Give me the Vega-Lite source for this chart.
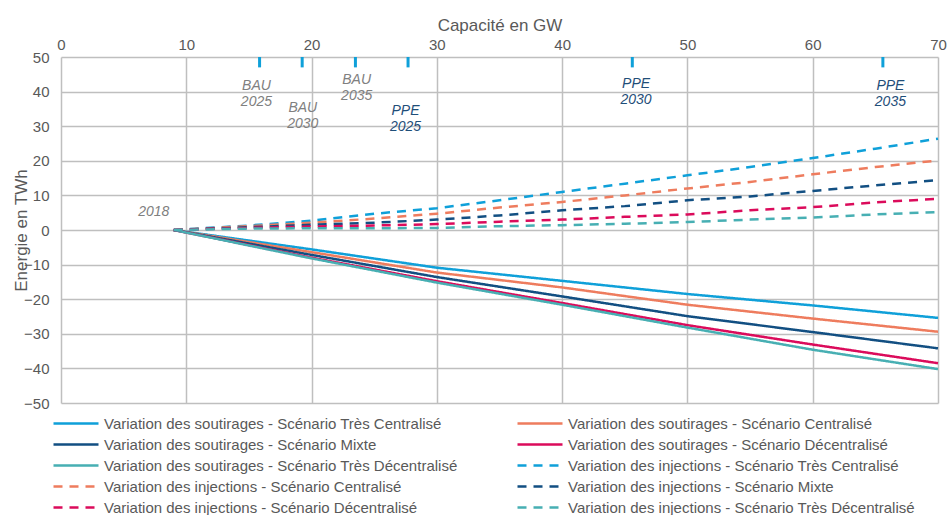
{
  "$schema": "https://vega.github.io/schema/vega-lite/v6.json",
  "autosize": "none",
  "width": 877,
  "height": 346,
  "padding": {"left": 61, "top": 57, "right": 9, "bottom": 112},
  "background": "white",
  "config": {
    "font": "Liberation Sans",
    "view": {"stroke": null},
    "axis": {"labelFont": "Liberation Sans", "titleFont": "Liberation Sans", "labelColor": "#595959", "titleColor": "#595959", "labelFontSize": 15, "titleFontSize": 17, "titleFontWeight": "normal", "gridColor": "#BFBFBF", "gridWidth": 1.5, "domain": false, "ticks": false, "labelOverlap": false}
  },
  "datasets": {
    "lines": [
      {"series": "Variation des soutirages - Scénario Très Centralisé", "x": 9, "y": 0},
      {"series": "Variation des soutirages - Scénario Très Centralisé", "x": 20, "y": -5.6},
      {"series": "Variation des soutirages - Scénario Très Centralisé", "x": 30, "y": -10.9},
      {"series": "Variation des soutirages - Scénario Très Centralisé", "x": 40, "y": -14.7},
      {"series": "Variation des soutirages - Scénario Très Centralisé", "x": 50, "y": -18.5},
      {"series": "Variation des soutirages - Scénario Très Centralisé", "x": 60, "y": -21.8},
      {"series": "Variation des soutirages - Scénario Très Centralisé", "x": 70, "y": -25.4},
      {"series": "Variation des soutirages - Scénario Centralisé", "x": 9, "y": 0},
      {"series": "Variation des soutirages - Scénario Centralisé", "x": 20, "y": -6.4},
      {"series": "Variation des soutirages - Scénario Centralisé", "x": 30, "y": -12.3},
      {"series": "Variation des soutirages - Scénario Centralisé", "x": 40, "y": -16.6},
      {"series": "Variation des soutirages - Scénario Centralisé", "x": 50, "y": -21.6},
      {"series": "Variation des soutirages - Scénario Centralisé", "x": 60, "y": -25.6},
      {"series": "Variation des soutirages - Scénario Centralisé", "x": 70, "y": -29.4},
      {"series": "Variation des soutirages - Scénario Mixte", "x": 9, "y": 0},
      {"series": "Variation des soutirages - Scénario Mixte", "x": 20, "y": -7.2},
      {"series": "Variation des soutirages - Scénario Mixte", "x": 30, "y": -13.6},
      {"series": "Variation des soutirages - Scénario Mixte", "x": 40, "y": -19.2},
      {"series": "Variation des soutirages - Scénario Mixte", "x": 50, "y": -24.9},
      {"series": "Variation des soutirages - Scénario Mixte", "x": 60, "y": -29.5},
      {"series": "Variation des soutirages - Scénario Mixte", "x": 70, "y": -34.2},
      {"series": "Variation des soutirages - Scénario Décentralisé", "x": 9, "y": 0},
      {"series": "Variation des soutirages - Scénario Décentralisé", "x": 20, "y": -8.0},
      {"series": "Variation des soutirages - Scénario Décentralisé", "x": 30, "y": -14.8},
      {"series": "Variation des soutirages - Scénario Décentralisé", "x": 40, "y": -21.1},
      {"series": "Variation des soutirages - Scénario Décentralisé", "x": 50, "y": -27.5},
      {"series": "Variation des soutirages - Scénario Décentralisé", "x": 60, "y": -33.1},
      {"series": "Variation des soutirages - Scénario Décentralisé", "x": 70, "y": -38.5},
      {"series": "Variation des soutirages - Scénario Très Décentralisé", "x": 9, "y": 0},
      {"series": "Variation des soutirages - Scénario Très Décentralisé", "x": 20, "y": -8.2},
      {"series": "Variation des soutirages - Scénario Très Décentralisé", "x": 30, "y": -15.2},
      {"series": "Variation des soutirages - Scénario Très Décentralisé", "x": 40, "y": -21.6},
      {"series": "Variation des soutirages - Scénario Très Décentralisé", "x": 50, "y": -28.2},
      {"series": "Variation des soutirages - Scénario Très Décentralisé", "x": 60, "y": -34.6},
      {"series": "Variation des soutirages - Scénario Très Décentralisé", "x": 70, "y": -40.2},
      {"series": "Variation des injections - Scénario Très Centralisé", "x": 9, "y": 0},
      {"series": "Variation des injections - Scénario Très Centralisé", "x": 15, "y": 1.3},
      {"series": "Variation des injections - Scénario Très Centralisé", "x": 20, "y": 2.7},
      {"series": "Variation des injections - Scénario Très Centralisé", "x": 25, "y": 4.7},
      {"series": "Variation des injections - Scénario Très Centralisé", "x": 30, "y": 6.3},
      {"series": "Variation des injections - Scénario Très Centralisé", "x": 35, "y": 8.6},
      {"series": "Variation des injections - Scénario Très Centralisé", "x": 40, "y": 11.0},
      {"series": "Variation des injections - Scénario Très Centralisé", "x": 45, "y": 13.4},
      {"series": "Variation des injections - Scénario Très Centralisé", "x": 50, "y": 15.8},
      {"series": "Variation des injections - Scénario Très Centralisé", "x": 55, "y": 18.2},
      {"series": "Variation des injections - Scénario Très Centralisé", "x": 60, "y": 20.8},
      {"series": "Variation des injections - Scénario Très Centralisé", "x": 65, "y": 23.5},
      {"series": "Variation des injections - Scénario Très Centralisé", "x": 70, "y": 26.4},
      {"series": "Variation des injections - Scénario Centralisé", "x": 9, "y": 0},
      {"series": "Variation des injections - Scénario Centralisé", "x": 15, "y": 1.1},
      {"series": "Variation des injections - Scénario Centralisé", "x": 20, "y": 2.1},
      {"series": "Variation des injections - Scénario Centralisé", "x": 25, "y": 3.3},
      {"series": "Variation des injections - Scénario Centralisé", "x": 30, "y": 4.7},
      {"series": "Variation des injections - Scénario Centralisé", "x": 35, "y": 6.5},
      {"series": "Variation des injections - Scénario Centralisé", "x": 40, "y": 8.1},
      {"series": "Variation des injections - Scénario Centralisé", "x": 45, "y": 10.0},
      {"series": "Variation des injections - Scénario Centralisé", "x": 50, "y": 12.0},
      {"series": "Variation des injections - Scénario Centralisé", "x": 55, "y": 13.9},
      {"series": "Variation des injections - Scénario Centralisé", "x": 60, "y": 16.1},
      {"series": "Variation des injections - Scénario Centralisé", "x": 65, "y": 18.2},
      {"series": "Variation des injections - Scénario Centralisé", "x": 70, "y": 20.1},
      {"series": "Variation des injections - Scénario Mixte", "x": 9, "y": 0},
      {"series": "Variation des injections - Scénario Mixte", "x": 15, "y": 0.8},
      {"series": "Variation des injections - Scénario Mixte", "x": 20, "y": 1.5},
      {"series": "Variation des injections - Scénario Mixte", "x": 25, "y": 2.1},
      {"series": "Variation des injections - Scénario Mixte", "x": 30, "y": 3.0},
      {"series": "Variation des injections - Scénario Mixte", "x": 35, "y": 4.2},
      {"series": "Variation des injections - Scénario Mixte", "x": 40, "y": 5.7},
      {"series": "Variation des injections - Scénario Mixte", "x": 45, "y": 6.9},
      {"series": "Variation des injections - Scénario Mixte", "x": 50, "y": 8.6},
      {"series": "Variation des injections - Scénario Mixte", "x": 55, "y": 9.7},
      {"series": "Variation des injections - Scénario Mixte", "x": 60, "y": 11.3},
      {"series": "Variation des injections - Scénario Mixte", "x": 65, "y": 12.9},
      {"series": "Variation des injections - Scénario Mixte", "x": 70, "y": 14.4},
      {"series": "Variation des injections - Scénario Décentralisé", "x": 9, "y": 0},
      {"series": "Variation des injections - Scénario Décentralisé", "x": 15, "y": 0.6},
      {"series": "Variation des injections - Scénario Décentralisé", "x": 20, "y": 1.0},
      {"series": "Variation des injections - Scénario Décentralisé", "x": 25, "y": 1.3},
      {"series": "Variation des injections - Scénario Décentralisé", "x": 30, "y": 1.7},
      {"series": "Variation des injections - Scénario Décentralisé", "x": 35, "y": 2.4},
      {"series": "Variation des injections - Scénario Décentralisé", "x": 40, "y": 3.0},
      {"series": "Variation des injections - Scénario Décentralisé", "x": 45, "y": 3.8},
      {"series": "Variation des injections - Scénario Décentralisé", "x": 50, "y": 4.5},
      {"series": "Variation des injections - Scénario Décentralisé", "x": 55, "y": 5.7},
      {"series": "Variation des injections - Scénario Décentralisé", "x": 60, "y": 6.6},
      {"series": "Variation des injections - Scénario Décentralisé", "x": 65, "y": 8.0},
      {"series": "Variation des injections - Scénario Décentralisé", "x": 70, "y": 9.0},
      {"series": "Variation des injections - Scénario Très Décentralisé", "x": 9, "y": 0},
      {"series": "Variation des injections - Scénario Très Décentralisé", "x": 15, "y": 0.4},
      {"series": "Variation des injections - Scénario Très Décentralisé", "x": 20, "y": 0.5},
      {"series": "Variation des injections - Scénario Très Décentralisé", "x": 25, "y": 0.5},
      {"series": "Variation des injections - Scénario Très Décentralisé", "x": 30, "y": 0.6},
      {"series": "Variation des injections - Scénario Très Décentralisé", "x": 35, "y": 1.1},
      {"series": "Variation des injections - Scénario Très Décentralisé", "x": 40, "y": 1.4},
      {"series": "Variation des injections - Scénario Très Décentralisé", "x": 45, "y": 1.8},
      {"series": "Variation des injections - Scénario Très Décentralisé", "x": 50, "y": 2.3},
      {"series": "Variation des injections - Scénario Très Décentralisé", "x": 55, "y": 3.0},
      {"series": "Variation des injections - Scénario Très Décentralisé", "x": 60, "y": 3.6},
      {"series": "Variation des injections - Scénario Très Décentralisé", "x": 65, "y": 4.5},
      {"series": "Variation des injections - Scénario Très Décentralisé", "x": 70, "y": 5.2}
    ],
    "markers": [
      {"x": 15.85}, {"x": 19.25}, {"x": 23.5}, {"x": 27.7}, {"x": 45.6}, {"x": 65.6}
    ],
    "labels": [
      {"label": "2018", "x": 7.4, "y": 5.2, "group": "BAU"},
      {"label": "BAU\n2025", "x": 15.6, "y": 41.7, "group": "BAU"},
      {"label": "BAU\n2030", "x": 19.3, "y": 35.4, "group": "BAU"},
      {"label": "BAU\n2035", "x": 23.6, "y": 43.3, "group": "BAU"},
      {"label": "PPE\n2025", "x": 27.5, "y": 34.3, "group": "PPE"},
      {"label": "PPE\n2030", "x": 45.9, "y": 42.1, "group": "PPE"},
      {"label": "PPE\n2035", "x": 66.2, "y": 41.5, "group": "PPE"}
    ]
  },
  "layer": [
    {
      "data": {"name": "lines"},
      "mark": {"type": "line", "strokeWidth": 2.5},
      "encoding": {
        "x": {"field": "x", "type": "quantitative", "scale": {"domain": [0, 70], "nice": false}, "axis": {"orient": "top", "title": "Capacité en GW", "values": [0, 10, 20, 30, 40, 50, 60, 70], "tickCount": 8, "labelPadding": 5, "titlePadding": 3, "labelFlush": false}},
        "y": {"field": "y", "type": "quantitative", "scale": {"domain": [-50, 50], "nice": false}, "axis": {"title": "Energie en TWh", "values": [-50, -40, -30, -20, -10, 0, 10, 20, 30, 40, 50], "tickCount": 11, "labelPadding": 12, "titlePadding": -7}},
        "color": {"field": "series", "type": "nominal", "scale": {
          "domain": ["Variation des soutirages - Scénario Très Centralisé", "Variation des soutirages - Scénario Centralisé", "Variation des soutirages - Scénario Mixte", "Variation des soutirages - Scénario Décentralisé", "Variation des soutirages - Scénario Très Décentralisé", "Variation des injections - Scénario Très Centralisé", "Variation des injections - Scénario Centralisé", "Variation des injections - Scénario Mixte", "Variation des injections - Scénario Décentralisé", "Variation des injections - Scénario Très Décentralisé"],
          "range": ["#0FA0D9", "#EE7C5E", "#124F82", "#DB0B5B", "#47AFB3", "#0FA0D9", "#EE7C5E", "#124F82", "#DB0B5B", "#47AFB3"]},
          "legend": {"title": null, "orient": "none", "direction": "horizontal", "legendX": 6, "legendY": 357.5, "padding": 0, "columns": 2, "columnPadding": 54, "rowPadding": 4, "symbolType": "M-3,0H3", "symbolSize": 225, "symbolStrokeWidth": 2.5, "labelFontSize": 15, "labelFont": "Liberation Sans", "labelColor": "#595959", "labelLimit": 500, "labelOffset": 19,
            "encode": {"symbols": {"update": {"strokeDash": {"signal": "test(/injections/, datum.value) ? [9, 7] : [1, 0]"}}}}}},
        "strokeDash": {"field": "series", "type": "nominal", "legend": null, "scale": {
          "domain": ["Variation des soutirages - Scénario Très Centralisé", "Variation des soutirages - Scénario Centralisé", "Variation des soutirages - Scénario Mixte", "Variation des soutirages - Scénario Décentralisé", "Variation des soutirages - Scénario Très Décentralisé", "Variation des injections - Scénario Très Centralisé", "Variation des injections - Scénario Centralisé", "Variation des injections - Scénario Mixte", "Variation des injections - Scénario Décentralisé", "Variation des injections - Scénario Très Décentralisé"],
          "range": [[1, 0], [1, 0], [1, 0], [1, 0], [1, 0], [9, 7], [9, 7], [9, 7], [9, 7], [9, 7]]}}
      }
    },
    {
      "data": {"name": "markers"},
      "mark": {"type": "rule", "color": "#0FA0D9", "strokeWidth": 3},
      "encoding": {
        "x": {"field": "x", "type": "quantitative"},
        "y": {"datum": 50},
        "y2": {"datum": 47}
      }
    },
    {
      "data": {"name": "labels"},
      "mark": {"type": "text", "fontStyle": "italic", "fontSize": 14, "lineBreak": "\n", "lineHeight": 16, "align": "center", "baseline": "middle", "font": "Liberation Sans"},
      "encoding": {
        "x": {"field": "x", "type": "quantitative"},
        "y": {"field": "y", "type": "quantitative"},
        "text": {"field": "label"},
        "color": {"field": "group", "type": "nominal", "scale": {"domain": ["BAU", "PPE"], "range": ["#808080", "#1F4E79"]}, "legend": null}
      }
    }
  ],
  "resolve": {"scale": {"color": "independent"}}
}
